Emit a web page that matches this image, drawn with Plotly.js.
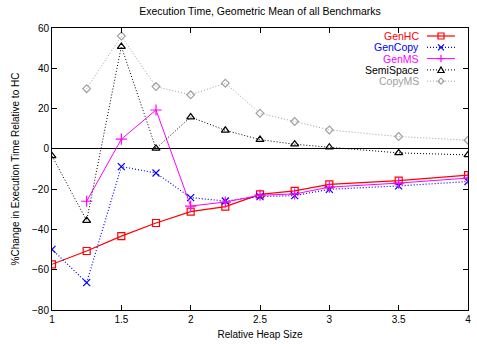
<!DOCTYPE html>
<html><head><meta charset="utf-8">
<script src="https://cdn.plot.ly/plotly-3.0.1.min.js"></script>
<style>html,body{margin:0;padding:0;background:#fff}#c{width:477px;height:347px}</style>
</head><body><div id="c"></div>
<script>
const heap = [1, 1.25, 1.5, 1.75, 2, 2.25, 2.5, 2.75, 3, 3.5, 4];
const heapMS = [1.25, 1.5, 1.75, 2, 2.25, 2.5, 2.75, 3, 3.5, 4];
const genHC = [-57.3, -50.7, -43.3, -36.8, -31.2, -28.7, -22.6, -20.9, -17.6, -15.8, -13.0];
const genCopy = [-49.9, -66.4, -8.8, -12.0, -24.2, -25.9, -23.7, -23.2, -20.1, -18.4, -16.2];
const genMS = [-26.0, 4.8, 19.3, -28.4, -26.4, -23.0, -22.4, -19.0, -17.0, -14.5];
const semiSpace = [-3.5, -35.6, 50.8, 0.2, 15.8, 9.2, 4.6, 2.3, 0.8, -2.0, -3.0];
const copyMS = [null, 29.9, 56.0, 30.9, 26.8, 32.6, 17.7, 13.6, 9.4, 6.1, 4.3];
const names = ['GenHC', 'GenCopy', 'GenMS', 'SemiSpace', 'CopyMS'];
const colors = ['#ff0000', '#0000ff', '#ff00ff', '#000000', '#a0a0a0'];

const dotted = '1px,2px';
const styles = [
  {line: {color: colors[0], width: 1.2}, symbol: 'square-open', size: 7},
  {line: {color: colors[1], width: 1.2, dash: dotted}, symbol: 'x-thin-open', size: 7},
  {line: {color: colors[2], width: 1}, symbol: 'cross-thin-open', size: 8},
  {line: {color: colors[3], width: 1, dash: dotted}, symbol: 'triangle-up-open', size: 7},
  {line: {color: colors[4], width: 1, dash: dotted}, symbol: 'diamond-open', size: 6}
];
const xs = [heap, heap, heapMS, heap, heap];
const ys = [genHC, genCopy, genMS, semiSpace, copyMS];

const traces = names.map((n, i) => ({
  x: xs[i], y: ys[i], name: n, mode: 'lines+markers', showlegend: false,
  line: styles[i].line,
  marker: {symbol: styles[i].symbol, size: styles[i].size, color: colors[i],
           line: {width: 1.2, color: colors[i]}}
}));

// gnuplot-style key: right-aligned text, then sample line with marker
const W = 477, H = 347, mL = 52, mR = 9, mT = 28, mB = 37;
const pw = W - mL - mR, ph = H - mT - mB;
const px = v => (v - mL) / pw;
const py = v => (H - mB - v) / ph;
const keyTextRight = 421, keyLine0 = 427, keyLine1 = 455, keyTop = 36, keyStep = 11.3;
const annotations = [], shapes = [];
const markerPaths = [
  'M-3,-3 L3,-3 L3,3 L-3,3 Z',
  'M-3,-3 L3,3 M-3,3 L3,-3',
  'M-3.5,0 L3.5,0 M0,-3.5 L0,3.5',
  'M-3.2,-2.6 L3.2,-2.6 L0,3 Z',
  'M0,-3 L3,0 L0,3 L-3,0 Z'
];
names.forEach((n, i) => {
  const yy = py(keyTop + i * keyStep);
  annotations.push({xref: 'paper', yref: 'paper', x: px(keyTextRight), y: yy,
    xanchor: 'right', yanchor: 'middle', showarrow: false, text: n,
    font: {size: 10.5, color: colors[i]}});
  shapes.push({type: 'line', xref: 'paper', yref: 'paper', x0: px(keyLine0), x1: px(keyLine1),
    y0: yy, y1: yy, line: styles[i].line});
  shapes.push({type: 'path', xref: 'paper', yref: 'paper', xsizemode: 'pixel', ysizemode: 'pixel',
    xanchor: px((keyLine0 + keyLine1) / 2), yanchor: yy, path: markerPaths[i],
    line: {color: colors[i], width: 1.2}, fillcolor: 'rgba(0,0,0,0)'});
});

const layout = {
  width: W, height: H,
  margin: {l: mL, r: mR, t: mT, b: mB},
  paper_bgcolor: '#fff', plot_bgcolor: '#fff',
  font: {family: 'Liberation Sans, Arial, sans-serif', size: 10, color: '#000'},
  title: {text: 'Execution Time, Geometric Mean of all Benchmarks', font: {size: 10.5},
          x: 0.5, xref: 'paper', y: 0.968, yref: 'container', yanchor: 'middle'},
  xaxis: {range: [1, 4], dtick: 0.5, tick0: 1, showgrid: false, zeroline: false,
          showline: true, linecolor: '#000', linewidth: 1, mirror: 'ticks',
          ticks: 'inside', ticklen: 5, tickcolor: '#000',
          title: {text: 'Relative Heap Size', font: {size: 10}, standoff: 6}},
  yaxis: {range: [-80, 60], dtick: 20, showgrid: false,
          zeroline: true, zerolinecolor: '#000', zerolinewidth: 1,
          showline: true, linecolor: '#000', linewidth: 1, mirror: 'ticks',
          ticks: 'inside', ticklen: 5, tickcolor: '#000',
          title: {text: '%Change in Execution Time Relative to HC', font: {size: 10}, standoff: 10}},
  showlegend: false,
  annotations: annotations,
  shapes: shapes
};

Plotly.newPlot('c', traces, layout, {displayModeBar: false, staticPlot: true});
</script></body></html>
